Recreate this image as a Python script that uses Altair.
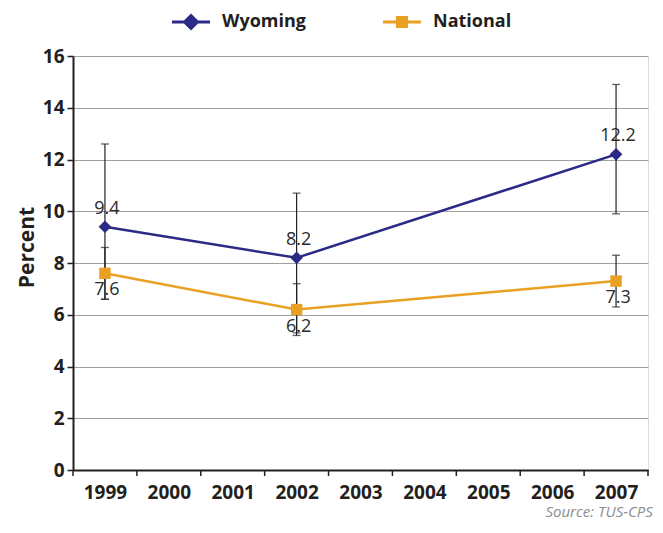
import altair as alt
import pandas as pd

years = [1999, 2002, 2007]
wyoming = [9.4, 8.2, 12.2]
wyoming_lo = [6.6, 5.3, 9.9]
wyoming_hi = [12.6, 10.7, 14.9]
national = [7.6, 6.2, 7.3]
national_lo = [6.6, 5.2, 6.3]
national_hi = [8.6, 7.2, 8.3]
series = ["Wyoming", "National"]
colors = ["#2B2A86", "#E9A023"]
axis_years = list(range(1999, 2008))
y_ticks = [0, 2, 4, 6, 8, 10, 12, 14, 16]

rows = []
for name, vals, lo, hi in [("Wyoming", wyoming, wyoming_lo, wyoming_hi),
                           ("National", national, national_lo, national_hi)]:
    for yr, v, l, h in zip(years, vals, lo, hi):
        rows.append(dict(series=name, year=yr, value=v, lo=l, hi=h, label=f"{v:.1f}"))
df = pd.DataFrame(rows)
tick_df = pd.DataFrame({"b": [y - 0.5 for y in axis_years] + [axis_years[-1] + 0.5]})
legend_df = pd.DataFrame({"series": series})

W, H = 575, 414
FONT = "Open Sans"
INK = "#231F20"

xs = alt.Scale(domain=[axis_years[0] - 0.5, axis_years[-1] + 0.5], nice=False, zero=False)
ys = alt.Scale(domain=[0, 16], nice=False)

x = alt.X("year:Q", scale=xs,
          axis=alt.Axis(values=axis_years, format="d", ticks=False, grid=False, title=None,
                        labelFont=FONT, labelFontWeight="bold", labelFontSize=19, labelColor=INK,
                        labelPadding=13, labelFlush=False, domainColor=INK, domainWidth=2))
y = alt.Y("value:Q", scale=ys,
          axis=alt.Axis(values=y_ticks, grid=True, gridColor="#A0A0A0", gridWidth=1,
                        tickColor=INK, tickSize=6, tickWidth=1.5, domainColor=INK, domainWidth=2,
                        labelFont=FONT, labelFontWeight="bold", labelFontSize=19, labelColor=INK,
                        labelPadding=3, title="Percent", titleFont=FONT, titleFontWeight="bold",
                        titleFontSize=21, titleColor=INK, titlePadding=5, titleY=191))

color = alt.Color("series:N", scale=alt.Scale(domain=series, range=colors), legend=None)

diamond_path = "M-1,-0.08H1V0.08H-1Z M0,-0.45L0.45,0L0,0.45L-0.45,0Z"
square_path = "M-1,-0.08H1V0.08H-1Z M-0.32,-0.32H0.32V0.32H-0.32Z"
leg_props = dict(orient="none", legendX=99, legendY=-53, direction="horizontal", title=None,
                 symbolSize=1444, symbolStrokeWidth=0, symbolOpacity=1, labelFont=FONT,
                 labelFontWeight="bold", labelFontSize=18, labelColor=INK, labelOffset=12,
                 columnPadding=77)
legend_layer = alt.Chart(legend_df).mark_point(filled=True, size=0, opacity=0).encode(
    color=alt.Color("series:N", scale=alt.Scale(domain=series, range=colors),
                    legend=alt.Legend(**leg_props)),
    shape=alt.Shape("series:N", scale=alt.Scale(domain=series, range=[diamond_path, square_path]),
                    legend=alt.Legend(**leg_props)))

xticks = alt.Chart(tick_df).mark_rule(color=INK, strokeWidth=1.5).encode(
    x=alt.X("b:Q", scale=xs), y=alt.value(H), y2=alt.value(H + 6))

base = alt.Chart(df)
err = base.mark_rule(color="#222222", strokeWidth=1.2).encode(
    x=x, y=alt.Y("lo:Q", scale=ys), y2="hi:Q")
cap_lo = base.mark_tick(orient="horizontal", size=8, thickness=1.3, color="#222222").encode(
    x=x, y=alt.Y("lo:Q", scale=ys))
cap_hi = base.mark_tick(orient="horizontal", size=8, thickness=1.3, color="#222222").encode(
    x=x, y=alt.Y("hi:Q", scale=ys))

lines = base.mark_line(strokeWidth=2.5).encode(x=x, y=y, color=color, detail="series:N")
pts_w = base.transform_filter(alt.datum.series == "Wyoming").mark_point(
    filled=True, shape="diamond", size=160, opacity=1).encode(x=x, y=y, color=color)
pts_n = base.transform_filter(alt.datum.series == "National").mark_point(
    filled=True, shape="square", size=130, opacity=1).encode(x=x, y=y, color=color)

txt_w = base.transform_filter(alt.datum.series == "Wyoming").mark_text(
    font=FONT, fontSize=18, color="#2A2A2A", dy=-18, dx=2, baseline="middle").encode(
    x=x, y=y, text="label:N")
txt_n = base.transform_filter(alt.datum.series == "National").mark_text(
    font=FONT, fontSize=18, color="#2A2A2A", dy=17, dx=2, baseline="middle").encode(
    x=x, y=y, text="label:N")

chart = alt.layer(legend_layer, xticks, err, cap_lo, cap_hi, lines, pts_w, pts_n, txt_w, txt_n).properties(
    width=W, height=H,
    padding={"left": 65, "top": 48, "right": 7, "bottom": 53},
    autosize=alt.AutoSizeParams(type="none"),
    title=alt.TitleParams("Source: TUS-CPS", orient="bottom", anchor="end", font=FONT,
                          fontStyle="italic", fontWeight="normal", fontSize=15, color="#8C8C8C",
                          offset=3, dx=4),
).configure_view(stroke=None).configure(background="white")

chart.save("out.html", embed_options={"renderer": "svg", "actions": False})
